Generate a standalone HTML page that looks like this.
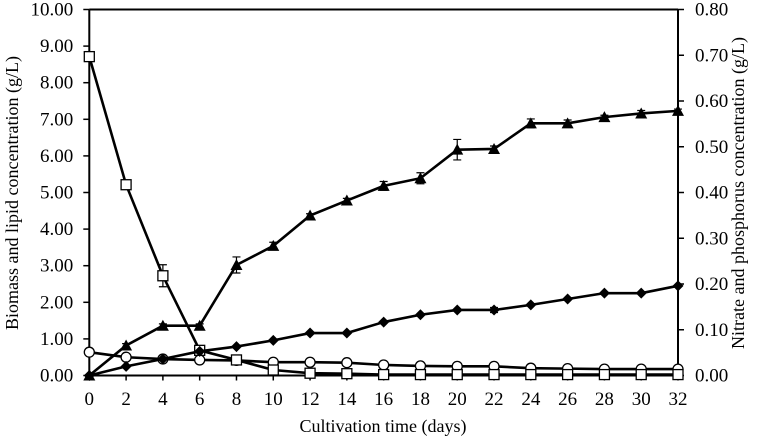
<!DOCTYPE html>
<html><head><meta charset="utf-8"><style>
html,body{margin:0;padding:0;background:#fff;width:762px;height:439px;overflow:hidden}
svg{display:block;font-family:"Liberation Serif","Times New Roman",serif}
</style></head><body>
<svg id="chart" width="762" height="439" viewBox="0 0 762 439" xmlns="http://www.w3.org/2000/svg">
<g id="axes"></g>
<g id="series"></g>
<text x="383" y="432" font-size="18" text-anchor="middle">Cultivation time (days)</text>
<text transform="translate(18,193) rotate(-90)" font-size="18" text-anchor="middle">Biomass and lipid concentration (g/L)</text>
<text transform="translate(744,193) rotate(-90)" font-size="18" text-anchor="middle">Nitrate and phosphorus concentration (g/L)</text>
</svg>
<script>
const days = [0,2,4,6,8,10,12,14,16,18,20,22,24,26,28,30,32];
const biomass = [0,0.82,1.36,1.36,3.02,3.54,4.37,4.78,5.18,5.39,6.17,6.19,6.89,6.89,7.06,7.16,7.23];
const biomassErr = [0,0.05,0.05,0.05,0.22,0.1,0.05,0.06,0.12,0.15,0.28,0.08,0.12,0.09,0.05,0.08,0.05];
const lipid = [0,0.25,0.45,0.66,0.79,0.96,1.16,1.16,1.46,1.66,1.79,1.79,1.93,2.09,2.25,2.25,2.45];
const lipidErr = [0,0,0,0,0,0,0,0,0,0,0,0.07,0,0,0,0,0];
const nitrate = [0.697,0.417,0.218,0.055,0.034,0.012,0.005,0.004,0.002,0.002,0.002,0.002,0.002,0.002,0.002,0.002,0.002];
const nitrateErr = [0,0,0.024,0,0,0,0,0,0,0,0,0,0,0,0,0,0];
const phosphorus = [0.051,0.040,0.036,0.034,0.033,0.029,0.029,0.028,0.023,0.021,0.020,0.020,0.016,0.015,0.014,0.014,0.014];
const leftTicks = ["0.00","1.00","2.00","3.00","4.00","5.00","6.00","7.00","8.00","9.00","10.00"];
const rightTicks = ["0.00","0.10","0.20","0.30","0.40","0.50","0.60","0.70","0.80"];

const NS="http://www.w3.org/2000/svg";
const X0=89.3,X1=678,Y0=375.5,Y1=9.5;
const xs=d=>X0+(d/32)*(X1-X0);
const yl=v=>Y0-(v/10)*(Y0-Y1);
const yr=v=>Y0-(v/0.8)*(Y0-Y1);
function mk(tag,attrs,parent){const e=document.createElementNS(NS,tag);for(const k in attrs)e.setAttribute(k,attrs[k]);parent.appendChild(e);return e;}
const axes=document.getElementById('axes'),ser=document.getElementById('series');
let a=mk('line',{x1:X0,y1:Y1,x2:X0,y2:Y0,stroke:'#000','stroke-width':2},axes);

a=mk('line',{x1:X1,y1:Y1,x2:X1,y2:Y0,stroke:'#000','stroke-width':2},axes);

a=mk('line',{x1:X0,y1:Y1,x2:X1,y2:Y1,stroke:'#000','stroke-width':2},axes);

a=mk('line',{x1:X0,y1:Y0,x2:X1,y2:Y0,stroke:'#000','stroke-width':2},axes);

leftTicks.forEach((t,i)=>{const y=yl(i);
 mk('line',{x1:X0-6,y1:y,x2:X0,y2:y,stroke:'#000','stroke-width':1.5},axes);
 const tx=mk('text',{x:X0-16,y:y+6,'font-size':19,'text-anchor':'end'},axes);tx.textContent=t;
 });
rightTicks.forEach((t,i)=>{const y=yr(i*0.1);
 mk('line',{x1:X1,y1:y,x2:X1+6,y2:y,stroke:'#000','stroke-width':1.5},axes);
 const tx=mk('text',{x:X1+17,y:y+6,'font-size':19,'text-anchor':'start'},axes);tx.textContent=t;
 });
days.forEach(d=>{const x=xs(d);
 mk('line',{x1:x,y1:Y0,x2:x,y2:Y0+5,stroke:'#000','stroke-width':1.5},axes);
 const tx=mk('text',{x:x,y:405,'font-size':19,'text-anchor':'middle'},axes);tx.textContent=d;
 });

function series(name,vals,errs,ys,shape){
 const g=mk('g',{},ser);
 
 const pts=days.map((d,i)=>xs(d)+','+ys(vals[i])).join(' ');
 const pl=mk('polyline',{points:pts,fill:'none',stroke:'#000','stroke-width':2.6},g);
 
 days.forEach((d,i)=>{const x=xs(d),y=ys(vals[i]);
  if(errs&&errs[i]>0){const y1=ys(vals[i]+errs[i]),y2=ys(vals[i]-errs[i]);
   const eb=mk('path',{d:`M${x},${y1}V${y2}M${x-4},${y1}H${x+4}M${x-4},${y2}H${x+4}`,stroke:'#000','stroke-width':1.2,fill:'none'},g);
   }
  let m;
  if(shape==='tri')m=mk('path',{d:`M${x},${y-6}L${x+6},${y+5}L${x-6},${y+5}Z`,fill:'#000'},g);
  else if(shape==='dia')m=mk('path',{d:`M${x},${y-5.5}L${x+5.5},${y}L${x},${y+5.5}L${x-5.5},${y}Z`,fill:'#000'},g);
  else if(shape==='sq')m=mk('rect',{x:x-5,y:y-5,width:10,height:10,fill:'#fff',stroke:'#000','stroke-width':1.3},g);
  else m=mk('circle',{cx:x,cy:y,r:5,fill:'#fff',stroke:'#000','stroke-width':1.3},g);
  });
}
series('phosphorus',phosphorus,null,yr,'circ');
series('nitrate',nitrate,nitrateErr,yr,'sq');
series('lipid',lipid,lipidErr,yl,'dia');
series('biomass',biomass,biomassErr,yl,'tri');
</script>
</body></html>
